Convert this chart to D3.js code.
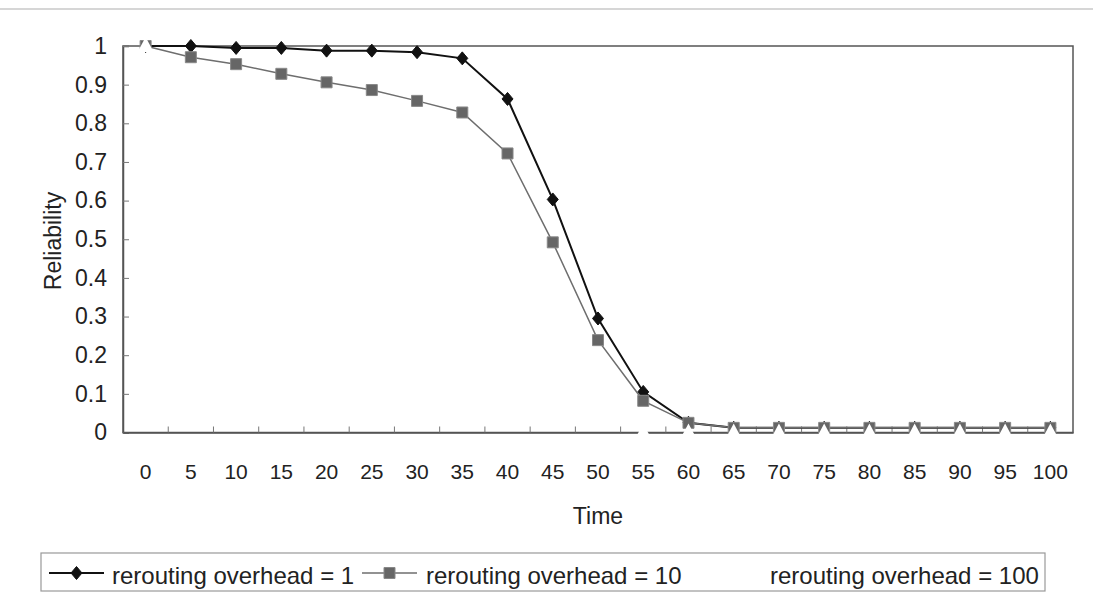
<!DOCTYPE html>
<html>
<head>
<meta charset="utf-8">
<script src="https://cdn.jsdelivr.net/npm/d3@7"></script>
<style>
  html, body { margin: 0; padding: 0; background: #fff; }
  svg { display: block; font-family: "Liberation Sans", Arial, sans-serif; }
</style>
</head>
<body>
<svg id="chart" width="1093" height="596"></svg>
<script>
// ---- data ----
const categories = [0, 5, 10, 15, 20, 25, 30, 35, 40, 45, 50, 55, 60, 65, 70, 75, 80, 85, 90, 95, 100];
const overheadOne = [1, 1.0, 0.995, 0.995, 0.988, 0.988, 0.984, 0.968, 0.863, 0.603, 0.295, 0.105, 0.025, 0.012, 0.012, 0.012, 0.012, 0.012, 0.012, 0.012, 0.012];
const overheadTen = [1, 0.971, 0.953, 0.928, 0.906, 0.886, 0.858, 0.828, 0.722, 0.492, 0.239, 0.082, 0.025, 0.012, 0.012, 0.012, 0.012, 0.012, 0.012, 0.012, 0.012];
const overheadHundred = [1, null, null, null, null, null, null, null, null, null, null, 0, 0, 0, 0, 0, 0, 0, 0, 0, 0];
const yTicks = [0, 0.1, 0.2, 0.3, 0.4, 0.5, 0.6, 0.7, 0.8, 0.9, 1];
const seriesNames = ["rerouting overhead = 1", "rerouting overhead = 10", "rerouting overhead = 100"];

// ---- layout ----
const svg = d3.select("#chart");
const plot = { left: 123, right: 1073, top: 46, bottom: 432.5 };

const x = d3.scaleBand().domain(categories).range([plot.left, plot.right]).paddingInner(0).paddingOuter(0);
const xc = d => x(d) + x.bandwidth() / 2;
const y = d3.scaleLinear().domain([0, 1]).range([plot.bottom, plot.top]);

// outer chart border (faint)
svg.append("line").attr("x1", 0).attr("x2", 1093).attr("y1", 9).attr("y2", 9)
  .attr("stroke", "#c8c8c8").attr("stroke-width", 1.5);

// plot frame
svg.append("rect")
  .attr("x", plot.left).attr("y", plot.top)
  .attr("width", plot.right - plot.left).attr("height", plot.bottom - plot.top)
  .attr("fill", "none").attr("stroke", "#555").attr("stroke-width", 1.5);

// y axis
const yAxis = d3.axisLeft(y).tickValues(yTicks).tickSize(-6).tickPadding(16)
  .tickFormat(d => d === 0 ? "0" : d === 1 ? "1" : d3.format(".1f")(d));
const gy = svg.append("g").attr("transform", `translate(${plot.left},0)`).call(yAxis);
gy.select(".domain").attr("stroke", "#555").attr("stroke-width", 1.5);
gy.selectAll(".tick line").attr("stroke", "#777");
gy.selectAll(".tick text").attr("font-size", 23).attr("fill", "#222")
  .attr("font-family", "Liberation Sans, Arial, sans-serif");

// x axis (ticks between categories, inward)
const gx = svg.append("g").attr("transform", `translate(0,${plot.bottom})`)
  .call(d3.axisBottom(x).tickSize(0).tickPadding(32));
gx.select(".domain").attr("stroke", "#555").attr("stroke-width", 1.5);
gx.selectAll(".tick text").attr("font-size", 21).attr("fill", "#222")
  .attr("font-family", "Liberation Sans, Arial, sans-serif");
gx.selectAll(".boundary").data(categories.slice(1)).enter().append("line")
  .attr("class", "boundary")
  .attr("x1", d => x(d)).attr("x2", d => x(d))
  .attr("y1", 0).attr("y2", -6).attr("stroke", "#777");

// axis titles
svg.append("text").attr("x", 598).attr("y", 524).attr("text-anchor", "middle")
  .attr("font-size", 23).attr("fill", "#222").text("Time");
svg.append("text").attr("transform", "translate(61,241) rotate(-90)").attr("text-anchor", "middle")
  .attr("font-size", 23).attr("fill", "#222").text("Reliability");

// ---- series ----
const line = d3.line().defined(d => d[1] != null).x(d => xc(d[0])).y(d => y(d[1]));
const diamond = "M0,-6.5L5.5,0L0,6.5L-5.5,0Z";
const square = "M-5.5,-5.5H5.5V5.5H-5.5Z";
const triangle = "M0,-9L8,6L-8,6Z";

function drawSeries(vals, color, width, markerPath, markerFill, markerStroke) {
  const pts = categories.map((c, i) => [c, vals[i]]);
  if (color) {
    svg.append("path").datum(pts).attr("d", line)
      .attr("fill", "none").attr("stroke", color).attr("stroke-width", width);
  }
  svg.append("g").selectAll("path").data(pts.filter(p => p[1] != null)).enter().append("path")
    .attr("d", markerPath)
    .attr("transform", p => `translate(${xc(p[0])},${y(p[1])})`)
    .attr("fill", markerFill).attr("stroke", markerStroke).attr("stroke-width", 1);
}
drawSeries(overheadOne, "#111", 2, diamond, "#111", "#111");
drawSeries(overheadTen, "#6e6e6e", 1.5, square, "#666", "#888");
drawSeries(overheadHundred, null, 0, triangle, "#fff", "none");

// ---- legend ----
const lg = svg.append("g");
lg.append("rect").attr("x", 41).attr("y", 553).attr("width", 1004).attr("height", 38)
  .attr("fill", "#fff").attr("stroke", "#999").attr("stroke-width", 1.2);
const legendItems = [
  { name: seriesNames[0], lx: 49, tx: 112, color: "#111", w: 2, m: diamond, f: "#111", s: "#111" },
  { name: seriesNames[1], lx: 362, tx: 426, color: "#6e6e6e", w: 1.5, m: square, f: "#666", s: "#888" },
  { name: seriesNames[2], lx: 708, tx: 770, color: null, w: 0, m: triangle, f: "#fff", s: "none" }
];
legendItems.forEach(it => {
  if (it.color) {
    lg.append("line").attr("x1", it.lx).attr("x2", it.lx + 55).attr("y1", 573).attr("y2", 573)
      .attr("stroke", it.color).attr("stroke-width", it.w);
  }
  lg.append("path").attr("d", it.m).attr("transform", `translate(${it.lx + 27.5},573)`)
    .attr("fill", it.f).attr("stroke", it.s);
  lg.append("text").attr("x", it.tx).attr("y", 584).attr("font-size", 24).attr("fill", "#222").text(it.name);
});
</script>
</body>
</html>
